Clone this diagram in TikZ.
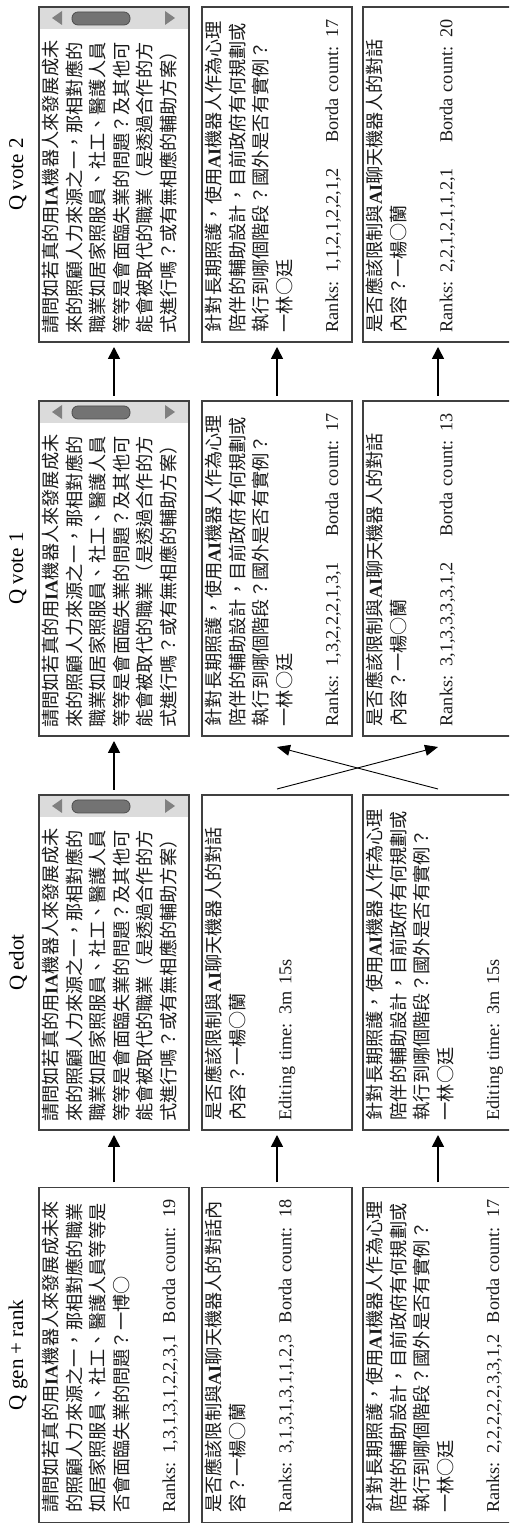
\documentclass[tikz,border=0pt]{standalone}
\usepackage{fontspec}
\setmainfont{Liberation Serif}
\newfontfamily\cjk{Noto Sans CJK TC}
\usetikzlibrary{arrows.meta,calc}
\newcommand\C[1]{{\cjk #1}}
\newcommand\B[1]{\textbf{#1}}
\newcommand\TxtA{\C{請問如若真的用}\B{IA}\C{機器人來發展成未}\\
\C{來的照顧人力來源之一，那相對應的}\\
\C{職業如居家照服員、社工、醫護人員}\\
\C{等等是會面臨失業的問題？及其他可}\\
\C{能會被取代的職業（是透過合作的方}\\
\C{式進行嗎？或有無相應的輔助方案）}}
\newcommand\TxtB{\C{是否應該限制與}\B{AI}\C{聊天機器人的對話}\\
\C{內容？一楊○蘭}}
\newcommand\TxtC{\C{針對長期照護，使用}\B{AI}\C{機器人作為心理}\\
\C{陪伴的輔助設計，目前政府有何規劃或}\\
\C{執行到哪個階段？國外是否有實例？}\\
\C{一林○廷}}
\newcommand\scrollbar[1]{%
 \fill[sbfill] ($(#1.north east)+(-22,0)$) rectangle (#1.south east);
 \draw[boxline] (#1.south west) rectangle (#1.north east);
 \fill[sbtri] ($(#1.north east)+(-11,-13)$) -- ($(#1.north east)+(-18,-23)$) -- ($(#1.north east)+(-4,-23)$) -- cycle;
 \fill[sbtri] ($(#1.south east)+(-11,14)$) -- ($(#1.south east)+(-18,24)$) -- ($(#1.south east)+(-4,24)$) -- cycle;
 \draw[thumb] ($(#1.north east)+(-18,-33)$) rectangle ($(#1.north east)+(-5,-91)$);
}
\tikzset{
 boxline/.style={draw=black!75, line width=1.2pt},
 box/.style={boxline, minimum width=335pt, minimum height=150pt, inner sep=0pt, outer sep=0pt},
 txt/.style={anchor=north west, inner sep=0pt, text width=313pt, align=left, font=\fontsize{18.2}{23.5}\selectfont, text=black!90},
 ttl/.style={font=\fontsize{21}{25}\selectfont},
 arr/.style={line width=1.6pt, -{Triangle[length=12pt,width=12pt]}, shorten <=5pt, shorten >=5pt},
 xarr/.style={line width=0.9pt, -{Triangle[length=13pt,width=11pt]}},
 sbfill/.style={fill=black!14},
 sbtri/.style={fill=black!50},
 thumb/.style={fill=black!55, draw=black!70, line width=0.8pt, rounded corners=6pt},
}
\begin{document}
\begin{tikzpicture}[x=1pt,y=1pt,rotate=90,transform shape]
\useasboundingbox (0,-509) rectangle (1524,0);
\clip (0,-509) rectangle (1524,0);
% titles
\node[ttl] (tg) at (169,-18) {Q gen + rank};
\node[ttl] (te) at (561.5,-18) {Q edot};
\node[ttl] (tv1) at (955.5,-18) {Q vote 1};
\node[ttl] (tv2) at (1349.5,-18) {Q vote 2};
% boxes
\foreach \n/\x in {g/169,e/561.5,a/955.5,b/1349.5}{
 \node[box] (\n1) at (\x,-114) {};
 \node[box] (\n2) at (\x,-277) {};
 \node[box] (\n3) at (\x,-438) {};
}
\scrollbar{e1}
\scrollbar{a1}
\scrollbar{b1}
% texts: Q gen + rank
\node[txt] (g1t) at ($(g1.north west)+(9.5,-3)$) {\C{請問如若真的用}\B{IA}\C{機器人來發展成未來}\\
\C{的照顧人力來源之一，那相對應的職業}\\
\C{如居家照服員、社工、醫護人員等等是}\\
\C{否會面臨失業的問題？一博○}\\[23.5pt]
Ranks: 1,3,1,3,1,2,2,3,1\hfill Borda count: 19};
\node[txt] (g2t) at ($(g2.north west)+(9.5,-3)$) {\C{是否應該限制與}\B{AI}\C{聊天機器人的對話內}\\
\C{容？一楊○蘭}\\[23.5pt]
Ranks: 3,1,3,1,3,1,1,2,3\hfill Borda count: 18};
\node[txt] (g3t) at ($(g3.north west)+(9.5,-3)$) {\TxtC\\[23.5pt]
Ranks: 2,2,2,2,2,3,3,1,2\hfill Borda count: 17};
% texts: Q edot
\node[txt] (e1t) at ($(e1.north west)+(8,-3)$) {\TxtA};
\node[txt] (e2t) at ($(e2.north west)+(9.5,-3)$) {\TxtB\\[23.5pt]
Editing time: 3m 15s};
\node[txt] (e3t) at ($(e3.north west)+(9.5,-3)$) {\TxtC\\[23.5pt]
Editing time: 3m 15s};
% texts: Q vote 1
\node[txt] (a1t) at ($(a1.north west)+(8,-3)$) {\TxtA};
\node[txt] (a2t) at ($(a2.north west)+(9.5,-3)$) {\TxtC\\[23.5pt]
Ranks: 1,3,2,2,2,1,3,1\hfill Borda count: 17};
\node[txt] (a3t) at ($(a3.north west)+(9.5,-3)$) {\TxtB\\[23.5pt]
Ranks: 3,1,3,3,3,3,1,2\hfill Borda count: 13};
% texts: Q vote 2
\node[txt] (b1t) at ($(b1.north west)+(8,-3)$) {\TxtA};
\node[txt] (b2t) at ($(b2.north west)+(9.5,-3)$) {\TxtC\\[23.5pt]
Ranks: 1,1,2,1,2,2,1,2\hfill Borda count: 17};
\node[txt] (b3t) at ($(b3.north west)+(9.5,-3)$) {\TxtB\\[23.5pt]
Ranks: 2,2,1,2,1,1,2,1\hfill Borda count: 20};
% arrows
\foreach \r in {1,2,3}{
 \draw[arr] (g\r) -- (e\r);
 \draw[arr] (a\r) -- (b\r);
}
\draw[arr] (e1) -- (a1);
\draw[xarr] ($(e2.east)+(6,0)$) -- ($(a3.west)+(-11,0)$);
\draw[xarr] ($(e3.east)+(6,0)$) -- ($(a2.west)+(-11,0)$);
\end{tikzpicture}
\end{document}
